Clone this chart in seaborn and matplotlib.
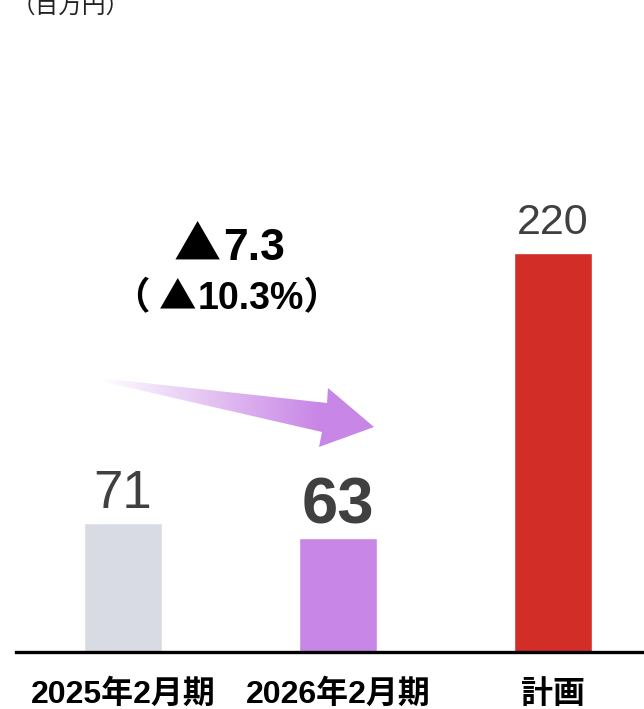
import numpy as np
import pandas as pd
import matplotlib.pyplot as plt
import seaborn as sns
from matplotlib.patches import Polygon

categories = ['2025年2月期', '2026年2月期', '計画']
values = [71, 63, 220]
value_labels = ['71', '63', '220']
bar_colors = ['#D8DBE3', '#C886E6', '#D22E27']
change_text = '▲7.3'
change_pct_text = '（▲10.3%）'
unit_text = '（百万円）'

# label styles per bar
label_sizes = [38, 47, 31]
label_weights = ['normal', 'bold', 'normal']
label_offsets = [11, 10, 13.5]

sns.set_style('white')
plt.rcParams['font.family'] = ['Liberation Sans', 'Noto Sans CJK JP', 'DejaVu Sans']
CJK = ['Noto Sans CJK JP']

W, H = 644, 709
fig = plt.figure(figsize=(W / 100, H / 100), dpi=100)
ax = fig.add_axes([16 / W, (H - 652) / H, (W - 16) / W, 652 / H])

df = pd.DataFrame({'cat': categories, 'val': values})
sns.barplot(data=df, x='cat', y='val', hue='cat', palette=bar_colors,
            width=0.36, legend=False, saturation=1, ax=ax)

ax.set_xlim(-0.4977, 2.423)
ax.set_ylim(0, 652 / (399 / 220))
for s in ['top', 'right', 'left']:
    ax.spines[s].set_visible(False)
ax.spines['bottom'].set_linewidth(2.4)
ax.spines['bottom'].set_color('black')
ax.set_yticks([])
ax.set_xlabel('')
ax.set_ylabel('')
ax.tick_params(axis='x', length=0, pad=20)
for t in ax.get_xticklabels():
    t.set_fontsize(23)
    t.set_fontweight('bold')
    t.set_color('black')

for i, (v, lab) in enumerate(zip(values, value_labels)):
    ax.annotate(lab, (i, v), xytext=(0, label_offsets[i]), textcoords='offset points',
                ha='center', va='baseline', fontsize=label_sizes[i],
                fontweight=label_weights[i], color='#404040')

# overlay in pixel coordinates for the annotation + arrow
ov = fig.add_axes([0, 0, 1, 1], facecolor='none')
ov.set_xlim(0, W)
ov.set_ylim(H, 0)
ov.axis('off')

# change amount: triangle drawn from the CJK font, digits from Liberation
ov.text(221, 260, change_text[0], ha='right', va='baseline', fontsize=34,
        fontweight='bold', color='black', family=CJK)
ov.text(223, 260, change_text[1:], ha='left', va='baseline', fontsize=32,
        fontweight='bold', color='black')
ov.text(150, 309, change_pct_text[0], ha='right', va='baseline', fontsize=27,
        fontweight='bold', color='black', family=CJK)
ov.text(196, 309, change_pct_text[1], ha='right', va='baseline', fontsize=27,
        fontweight='bold', color='black', family=CJK)
ov.text(198, 309, change_pct_text[2:], ha='left', va='baseline', fontsize=27,
        fontweight='bold', color='black')

ov.text(12, 13, unit_text, ha='left', va='baseline', fontsize=17,
        color='#222222', family=CJK)

arrow_pts = [(100, 378), (327, 403), (328, 388), (374, 427),
             (319, 447), (322, 432), (100, 381)]
poly = Polygon(arrow_pts, closed=True, facecolor='none', edgecolor='none')
ov.add_patch(poly)
x0, x1 = 100, 374
n = 256
ramp = np.clip(np.linspace(0, 1, n) / 0.8, 0, 1)
rgba = np.zeros((1, n, 4))
base = np.array([0xC8, 0x86, 0xE6]) / 255
rgba[0, :, :3] = base
rgba[0, :, 3] = ramp
im = ov.imshow(rgba, extent=(x0, x1, 450, 375), aspect='auto', interpolation='bilinear')
im.set_clip_path(poly)

fig.savefig('out.png', dpi=100)
